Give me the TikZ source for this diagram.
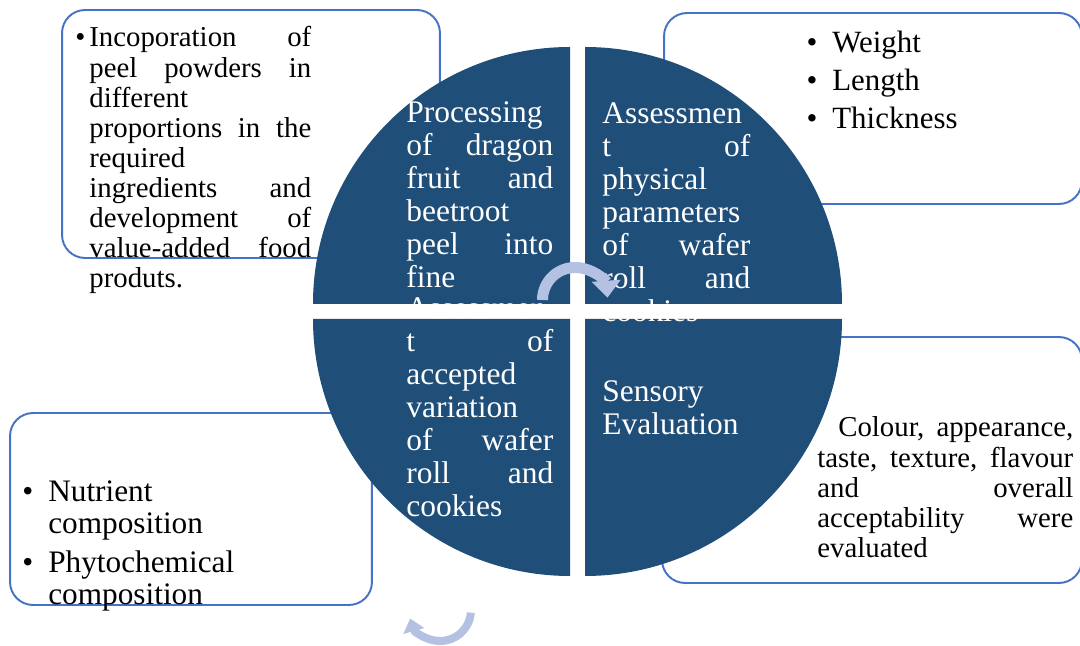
\documentclass[tikz,border=0pt]{standalone}
\usepackage{fontspec}
\setmainfont{Liberation Serif}
\usepackage{xcolor}
\usetikzlibrary{arrows.meta}

\definecolor{wheelblue}{HTML}{1F4E79}
\definecolor{boxblue}{HTML}{4472C4}
\definecolor{cyclefill}{HTML}{B4C1E2}

\newcommand{\itembullet}[1]{\leavevmode\llap{\textbullet\hspace{#1}}}

\tikzset{
  quadrant/.style={fill=wheelblue},
  infobox/.style={draw=boxblue, line width=1.1pt, rounded corners=0.46cm, fill=white, inner sep=0pt, outer sep=0pt},
  wheeltext/.style={text=white, inner sep=0pt, anchor=base west, align=left, font=\fontsize{17.9}{18.7}\selectfont},
  boxtext/.style={text=black, inner sep=0pt, anchor=base west, align=left},
  cyclearrow/.style={draw=cyclefill}
}

\begin{document}
\begin{tikzpicture}[x=0.02cm, y=0.02cm]
  \useasboundingbox (0,0) rectangle (1080,646);

  % Draw boxes
  \node[infobox, minimum width=7.56cm, minimum height=4.96cm] (prepbox) at (251,512) {};
  \node[infobox, minimum width=8.36cm, minimum height=3.82cm] (physbox) at (873,537.5) {};
  \node[infobox, minimum width=7.24cm, minimum height=3.84cm] (nutribox) at (191,137) {};
  \node[infobox, minimum width=8.4cm, minimum height=4.92cm] (sensebox) at (872,186) {};

  % Draw quadrants
  \fill[quadrant] (570,342) -- (313,342) arc[start angle=180, end angle=90, radius=257] -- cycle;
  \fill[quadrant] (585,342) -- (585,599) arc[start angle=90, end angle=0, radius=257] -- cycle;
  \fill[quadrant] (570,327) -- (313,327) arc[start angle=180, end angle=270, radius=257] -- cycle;
  \fill[quadrant] (585,327) -- (842,327) arc[start angle=0, end angle=-90, radius=257] -- cycle;

  % Quadrant texts
  \node[wheeltext, text width=2.94cm] (proctext) at (406,523)
    {Processing\\ of\hfill dragon\\ fruit\hfill and\\ beetroot\\ peel\hfill into\\ fine};
  \node[wheeltext, text width=2.96cm] (phystext) at (602,522)
    {Assessmen\\ t\hfill of\\ physical\\ parameters\\ of\hfill wafer\\ roll\hfill and\\ cookies};
  \node[wheeltext, text width=2.94cm] (accepttext) at (406,327)
    {Assessmen\\ t\hfill of\\ accepted\\ variation\\ of\hfill wafer\\ roll\hfill and\\ cookies};
  \node[wheeltext, text width=2.96cm] (sensetext) at (602,244)
    {Sensory\\ Evaluation};

  % Box texts
  \node[boxtext, text width=4.44cm, font=\fontsize{16.4}{17.1}\selectfont] (preptext) at (89,599)
    {\itembullet{0.08cm}Incoporation\hfill of\\ peel\hfill powders\hfill in\\ different\\
     proportions\hfill in\hfill the\\ required\\ ingredients\hfill and\\ development\hfill of\\
     value-added\hfill food\\ produts.};
  \node[boxtext, text width=4cm, font=\fontsize{17.6}{21.4}\selectfont] (measures) at (832,593)
    {\itembullet{0.3cm}Weight\\ \itembullet{0.3cm}Length\\ \itembullet{0.3cm}Thickness};
  \node[boxtext, text width=6cm, font=\fontsize{17.8}{18.1}\selectfont] (nutritext) at (48,144)
    {\itembullet{0.3cm}Nutrient\\ composition\\[4pt] \itembullet{0.3cm}Phytochemical\\ composition};
  \node[boxtext, text width=5.12cm, font=\fontsize{16.4}{17.2}\selectfont] (sensetraits) at (817,209)
    {\hspace*{0.42cm}Colour,\hfill appearance,\\ taste,\hfill texture,\hfill flavour\\ and\hfill overall\\
     acceptability\hfill were\\ evaluated};

  % Draw cycle arrows
  \coordinate (hub) at (575,346);
  \coordinate (loop) at (440,36);
  \draw[cyclearrow, line width=0.22cm, -{Triangle[width=0.56cm, length=0.34cm]}]
    ([shift={(180:32.5)}]hub) arc[start angle=180, end angle=4, radius=32.5];
  \draw[cyclearrow, line width=0.16cm, -{Triangle[width=0.42cm, length=0.26cm]}]
    ([shift={(-5:31)}]loop) arc[start angle=-5, end angle=-164, radius=31];
\end{tikzpicture}
\end{document}
